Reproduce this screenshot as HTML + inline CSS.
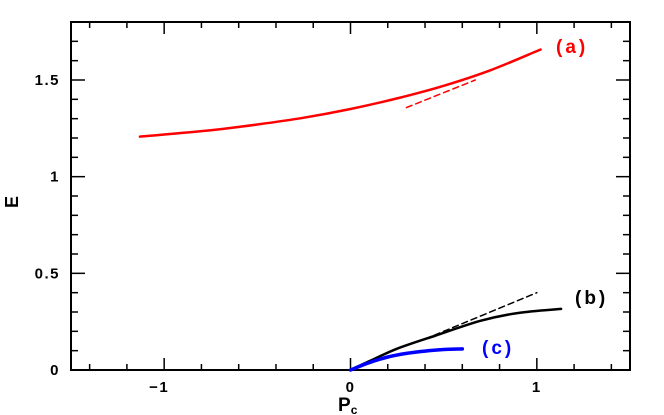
<!DOCTYPE html>
<html><head><meta charset="utf-8"><style>
html,body{margin:0;padding:0;background:#fff;}
svg{display:block;font-family:"Liberation Sans",sans-serif;font-weight:bold;}
</style></head><body>
<svg id="chart" width="664" height="415" viewBox="0 0 664 415" xmlns="http://www.w3.org/2000/svg"></svg>
<script>
const xTickLabels = [-1, 0, 1];
const yTickLabels = [0, 0.5, 1, 1.5];
const seriesA_x = [-1.13, -1, -0.75, -0.5, -0.25, 0, 0.25, 0.5, 0.75, 1.02];
const seriesA_y = [1.207, 1.218, 1.24, 1.27, 1.305, 1.35, 1.405, 1.47, 1.55, 1.658];
const seriesAdash_x = [0.3, 0.67];
const seriesAdash_y = [1.357, 1.50];
const seriesB_x = [0, 0.1, 0.25, 0.45, 0.7, 0.9, 1.13];
const seriesB_y = [0, 0.045, 0.11, 0.176, 0.255, 0.295, 0.316];
const seriesBdash_x = [0.4, 1.0];
const seriesBdash_y = [0.16, 0.40];
const seriesC_x = [0, 0.1, 0.2, 0.3, 0.4, 0.5, 0.6];
const seriesC_y = [0, 0.038, 0.067, 0.086, 0.098, 0.106, 0.109];

const svg = document.getElementById('chart');
const NS = 'http://www.w3.org/2000/svg';
const L = 71, R = 630, T = 22, B = 370;
const X = v => L + (v + 1.5) / 3 * (R - L);
const Y = v => B - v / 1.8 * (B - T);
function mk(tag, attrs, parent) {
  const e = document.createElementNS(NS, tag);
  for (const k in attrs) e.setAttribute(k, attrs[k]);
  (parent || svg).appendChild(e);
  return e;
}
const frame = mk('rect', {x: L, y: T, width: R - L, height: B - T, fill: 'none', stroke: '#000', 'stroke-width': 2});


for (let i = -7; i <= 7; i++) {
  const v = i * 0.2, major = Math.abs(v - Math.round(v)) < 1e-9;
  const len = major ? 12 : 6;
  mk('line', {x1: X(v), x2: X(v), y1: B, y2: B - len, stroke: '#000', 'stroke-width': 1.5});
  mk('line', {x1: X(v), x2: X(v), y1: T, y2: T + len, stroke: '#000', 'stroke-width': 1.5});
}
for (let i = 1; i < 18; i++) {
  const v = i * 0.1, major = i % 5 === 0;
  const len = major ? 14 : 7;
  mk('line', {x1: L, x2: L + len, y1: Y(v), y2: Y(v), stroke: '#000', 'stroke-width': 1.5});
  mk('line', {x1: R, x2: R - len, y1: Y(v), y2: Y(v), stroke: '#000', 'stroke-width': 1.5});
}
xTickLabels.forEach(v => {
  const t = mk('text', {x: X(v) - (v < 0 ? 5 : 0), y: 392, 'text-anchor': 'middle', 'font-size': 15, 'letter-spacing': 1.5});
  t.textContent = v < 0 ? '\u2212' + Math.abs(v) : String(v);
  
  
});
yTickLabels.forEach(v => {
  const t = mk('text', {x: 60, y: Y(v) + 5, 'text-anchor': 'end', 'font-size': 15, 'letter-spacing': 1.5});
  t.textContent = String(v);
  
  
});
const xt = mk('text', {x: 338, y: 411, 'font-size': 19});
xt.innerHTML = 'P<tspan font-size="12" dy="3">c</tspan>';


const yt = mk('text', {x: 18, y: 202, 'text-anchor': 'middle', 'font-size': 18, transform: 'rotate(-90 18 202)'});
yt.textContent = 'E';



function smoothPath(pts) {
  let d = 'M' + pts[0][0].toFixed(1) + ',' + pts[0][1].toFixed(1);
  for (let i = 0; i < pts.length - 1; i++) {
    const p0 = pts[i - 1] || pts[i], p1 = pts[i], p2 = pts[i + 1], p3 = pts[i + 2] || p2;
    const c1x = p1[0] + (p2[0] - p0[0]) / 6, c1y = p1[1] + (p2[1] - p0[1]) / 6;
    const c2x = p2[0] - (p3[0] - p1[0]) / 6, c2y = p2[1] - (p3[1] - p1[1]) / 6;
    d += ' C' + [c1x, c1y, c2x, c2y, p2[0], p2[1]].map(n => n.toFixed(1)).join(',');
  }
  return d;
}
function line(xs, ys, color, w, dash, name) {
  const d = smoothPath(xs.map((x, i) => [X(x), Y(ys[i])]));
  const p = mk('path', {d, fill: 'none', stroke: color, 'stroke-width': w, 'stroke-linecap': 'round', 'stroke-linejoin': 'round'});
  if (dash) p.setAttribute('stroke-dasharray', dash);
  
  
}
line(seriesA_x, seriesA_y, '#ff0000', 2.5, null, 'series-a-line');
line(seriesAdash_x, seriesAdash_y, '#ff0000', 1.5, '6,4', 'series-a-dashed');
line(seriesB_x, seriesB_y, '#000', 2.5, null, 'series-b-line');
line(seriesBdash_x, seriesBdash_y, '#000', 1.5, '6,4', 'series-b-dashed');
line(seriesC_x, seriesC_y, '#0000ff', 3.5, null, 'series-c-line');

function lab(x, y, txt, color, name) {
  const t = mk('text', {x, y, fill: color, 'font-size': 19, 'letter-spacing': 3});
  t.textContent = txt;
  
  
}
lab(556, 53, '(a)', '#ff0000', 'label-a');
lab(575, 304, '(b)', '#000', 'label-b');
lab(482, 354, '(c)', '#0000ff', 'label-c');
</script>
</body></html>
